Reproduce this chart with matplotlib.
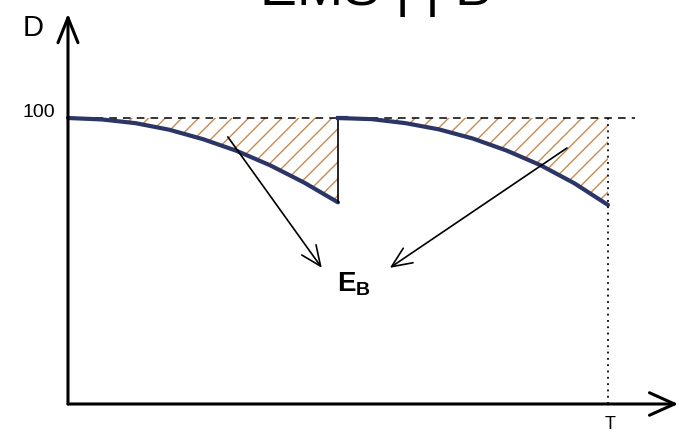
import matplotlib
matplotlib.use("Agg")
import matplotlib.pyplot as plt

plt.rcParams['font.family'] = ['Liberation Sans', 'DejaVu Sans']
plt.rcParams['mathtext.fontset'] = 'custom'
plt.rcParams['mathtext.bf'] = 'Liberation Sans:bold'
plt.rcParams['mathtext.rm'] = 'Liberation Sans'
plt.rcParams['hatch.linewidth'] = 1.0

# Zeitachse: 0 .. T (T = 1), Auffrischung bei T/2
t1 = [0.0, 0.0625, 0.125, 0.1875, 0.25, 0.3125, 0.375, 0.4375, 0.5]
d1 = [100, 99.5, 98.2, 95.9, 92.6, 88.5, 83.4, 77.4, 70.5]
t2 = [0.5, 0.5625, 0.625, 0.6875, 0.75, 0.8125, 0.875, 0.9375, 1.0]
d2 = [100, 99.6, 98.2, 96.0, 92.8, 88.6, 83.5, 77.2, 69.6]
d_max = 100
T = 1.0

fig = plt.figure(figsize=(6.79, 4.36), dpi=100)
ax = fig.add_axes([0, 0, 1, 1])
ax.set_xlim(-0.1259, 1.1315)
ax.set_ylim(-11.19, 141.26)
ax.axis('off')

navy = '#2b3566'
hatchcol = '#c98b50'

# schraffierte Flaechen
for tt, dd in [(t1, d1), (t2, d2)]:
    ax.fill_between(tt, dd, d_max, facecolor='white', edgecolor=hatchcol,
                    hatch='//', linewidth=0)

# gestrichelte Linie bei 100
ax.plot([0, 1.05], [d_max, d_max], color='black', lw=1.1, ls=(0, (5, 4)))

# Kurven
ax.plot(t1, d1, color=navy, lw=3.0, solid_capstyle='round')
ax.plot(t2, d2, color=navy, lw=3.0, solid_capstyle='round')

# senkrechter Sprung bei T/2
ax.plot([t1[-1], t1[-1]], [d1[-1], d_max], color='black', lw=1.2)
ax.plot([t2[0], 0.515], [d_max, d_max], color=navy, lw=3.0)

# gepunktete Linie bei T
ax.plot([T, T], [0, d_max], color='black', lw=1.3, ls=(0, (1, 2.5)))

# Achsen mit Pfeilen
ax.annotate('', xy=(0, 136.5), xytext=(0, 0),
            arrowprops=dict(arrowstyle='->,head_length=1.0,head_width=0.4',
                            lw=2.2, color='black', mutation_scale=18,
                            shrinkA=0, shrinkB=0))
ax.annotate('', xy=(1.13, 0), xytext=(0, 0),
            arrowprops=dict(arrowstyle='->,head_length=1.0,head_width=0.45',
                            lw=2.2, color='black', mutation_scale=18,
                            shrinkA=0, shrinkB=0))

# Beschriftungen
ax.text(-0.064, 131.5, 'D', fontsize=21, ha='center', va='center')
ax.text(-0.024, 102, '100', fontsize=14, ha='right', va='center')
ax.text(T + 0.004, -7.0, 'T', fontsize=13, ha='center', va='center')
ax.text(0.57, 139.5, 'EMS | | B', fontsize=40, ha='center', va='baseline')

# E_B mit Pfeilen
ax.text(0.53, 42.0, r'$\mathbf{E_B}$', fontsize=20, ha='center', va='center')
ax.annotate('', xy=(0.470, 47.6), xytext=(0.296, 93.4),
            arrowprops=dict(arrowstyle='->,head_length=0.8,head_width=0.35',
                            lw=1.2, color='black', mutation_scale=18,
                            shrinkA=0, shrinkB=0))
ax.annotate('', xy=(0.596, 47.6), xytext=(0.924, 89.5),
            arrowprops=dict(arrowstyle='->,head_length=0.8,head_width=0.35',
                            lw=1.2, color='black', mutation_scale=18,
                            shrinkA=0, shrinkB=0))

fig.savefig('out.png', dpi=100)
